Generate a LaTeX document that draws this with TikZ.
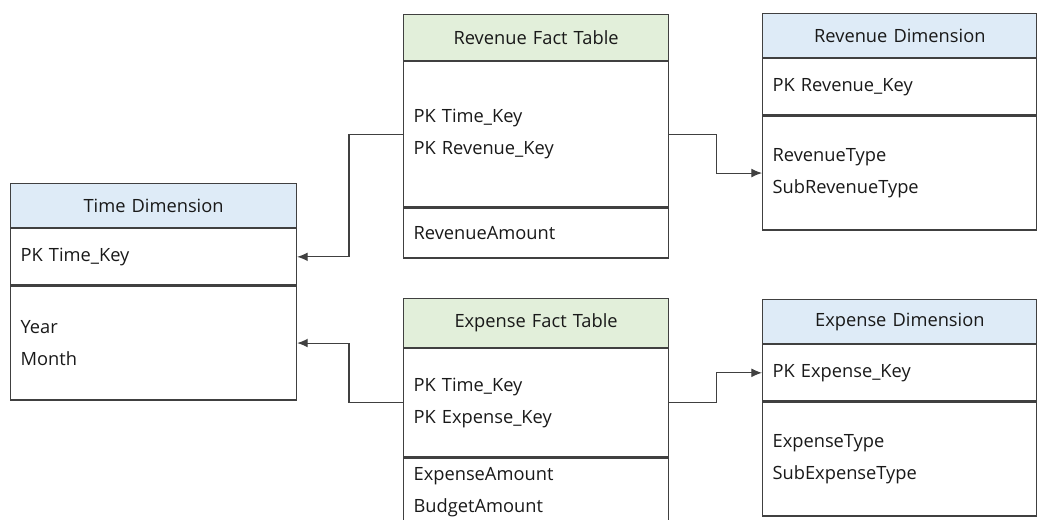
\documentclass[tikz,border=0pt]{standalone}
\usepackage{fontspec}
\setmainfont{Open Sans}
\usetikzlibrary{positioning,arrows.meta}

\definecolor{dimblue}{HTML}{DEEBF7}
\definecolor{factgreen}{HTML}{E2EFDA}
\definecolor{edgegray}{HTML}{404040}

\tikzset{
  cell/.style={draw=edgegray, line width=0.7pt, rectangle, inner xsep=0.2cm, inner ysep=0pt,
    align=left, text=black!90, font=\fontsize{10.4}{18.2}\selectfont},
  head/.style={cell, align=center},
  timew/.style={text width=5.32cm},
  factw/.style={text width=4.9cm},
  dimw/.style={text width=5.09cm},
  fklink/.style={draw=edgegray, line width=0.6pt, -{Latex[length=6pt,width=5pt]}}
}

\begin{document}
\begin{tikzpicture}[x=0.02cm,y=-0.02cm]
\useasboundingbox (0,0) rectangle (1037,520);

% time dimension
\node [head, timew, fill=dimblue, minimum height=0.88cm, anchor=north west] (tdh) at (10,183) {Time Dimension};
\node [cell, timew, minimum height=1.12cm, below=0pt of tdh] (tpk) {PK Time\_Key};
\node [cell, timew, minimum height=2.28cm, below=0pt of tpk] (tattr) {Year\\Month};

% revenue fact table
\node [head, factw, fill=factgreen, minimum height=0.92cm, anchor=north west] (rfh) at (403,14) {Revenue\ Fact Table};
\node [cell, factw, minimum height=2.9cm, below=0pt of rfh] (rfkeys) {PK Time\_Key\\PK Revenue\_Key};
\node [cell, factw, minimum height=1cm, below=0pt of rfkeys] (rfmeas) {RevenueAmount};

% expense fact table
\node [head, factw, fill=factgreen, minimum height=0.98cm, anchor=north west] (efh) at (403,298) {Expense\ Fact Table};
\node [cell, factw, minimum height=2.16cm, below=0pt of efh] (efkeys) {PK Time\_Key\\PK Expense\_Key};
\node [cell, factw, minimum height=1.36cm, below=0pt of efkeys] (efmeas) {ExpenseAmount\\BudgetAmount};

% revenue dimension
\node [head, dimw, fill=dimblue, minimum height=0.88cm, anchor=north west] (rdh) at (762,13) {Revenue\ Dimension};
\node [cell, dimw, minimum height=1.12cm, below=0pt of rdh] (rpk) {PK Revenue\_Key};
\node [cell, dimw, minimum height=2.28cm, below=0pt of rpk] (rattr) {RevenueType\\SubRevenueType};

% expense dimension
\node [head, dimw, fill=dimblue, minimum height=0.88cm, anchor=north west] (edh) at (762,299) {Expense\ Dimension};
\node [cell, dimw, minimum height=1.12cm, below=0pt of edh] (epk) {PK Expense\_Key};
\node [cell, dimw, minimum height=2.28cm, below=0pt of epk] (eattr) {ExpenseType\\SubExpenseType};

% links
\draw [fklink] (rfkeys.west) -- ++(-54,0) |- (tpk.east);
\draw [fklink] (efkeys.west) -- ++(-54,0) |- (tattr.east);
\draw [fklink] (rfkeys.east) -- ++(47,0) |- (rattr.west);
\draw [fklink] (efkeys.east) -- ++(47,0) |- (epk.west);
\end{tikzpicture}
\end{document}
